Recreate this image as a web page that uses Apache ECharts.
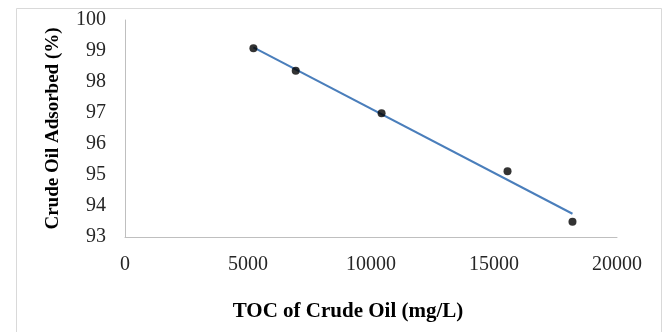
<!DOCTYPE html>
<html>
<head>
<meta charset="utf-8">
<script src="https://cdn.jsdelivr.net/npm/echarts@6/dist/echarts.min.js"></script>
<style>
html,body{margin:0;padding:0;background:#fff;}
#c{width:663px;height:332px;}
</style>
</head>
<body>
<div id="c"></div>
<script>
// Data
var tocValues = [5220, 6940, 10430, 15550, 18190];
var adsorbedValues = [99.09, 98.36, 96.99, 95.12, 93.49];
// Linear trendline end points as drawn in the reference
var trendX = [5220, 18190];
var trendY = [99.12, 93.75];
var xTicks = [0, 5000, 10000, 15000, 20000];
var yTicks = [93, 94, 95, 96, 97, 98, 99, 100];

var scatterData = tocValues.map(function (x, i) { return [x, adsorbedValues[i]]; });
var trendData = trendX.map(function (x, i) { return [x, trendY[i]]; });

var chart = echarts.init(document.getElementById('c'), null, { renderer: 'canvas' });
var serif = '"Liberation Serif", "Times New Roman", serif';
chart.setOption({
  animation: false,
  backgroundColor: '#fff',
  grid: { left: 125, top: 20, right: 46, bottom: 95, containLabel: false },
  graphic: [{
    type: 'rect',
    shape: { x: 16.5, y: 8.5, width: 645, height: 340 },
    style: { fill: 'none', stroke: '#d9d9d9', lineWidth: 1 },
    silent: true
  }],
  xAxis: {
    type: 'value',
    min: xTicks[0],
    max: xTicks[xTicks.length - 1],
    interval: xTicks[1] - xTicks[0],
    axisLine: { show: true, onZero: false, lineStyle: { color: '#bfbfbf', width: 1 } },
    axisTick: { show: false },
    splitLine: { show: false },
    axisLabel: { margin: 18, color: '#262626', fontFamily: serif, fontSize: 20, formatter: function (v) { return String(v); } },
    name: 'TOC of Crude Oil (mg/L)',
    nameLocation: 'middle',
    nameGap: 64,
    nameTextStyle: { color: '#000', fontFamily: serif, fontSize: 21, fontWeight: 'bold', padding: [0, 46, 0, 0] }
  },
  yAxis: {
    type: 'value',
    min: yTicks[0],
    max: yTicks[yTicks.length - 1],
    interval: 1,
    axisLine: { show: true, lineStyle: { color: '#bfbfbf', width: 1 } },
    axisTick: { show: false },
    splitLine: { show: false },
    axisLabel: { margin: 19, color: '#262626', fontFamily: serif, fontSize: 20, formatter: function (v) { return String(v); } },
    name: 'Crude Oil Adsorbed (%)',
    nameLocation: 'middle',
    nameGap: 62,
    nameRotate: 90,
    nameTextStyle: { color: '#000', fontFamily: serif, fontSize: 19, fontWeight: 'bold' }
  },
  series: [{
    type: 'line',
    data: trendData,
    showSymbol: false,
    symbol: 'none',
    lineStyle: { color: '#4a7ebb', width: 2 },
    z: 2
  }, {
    type: 'scatter',
    data: scatterData,
    symbol: 'circle',
    symbolSize: 8,
    itemStyle: { color: '#000' },
    z: 3
  }]
});
</script>
</body>
</html>
